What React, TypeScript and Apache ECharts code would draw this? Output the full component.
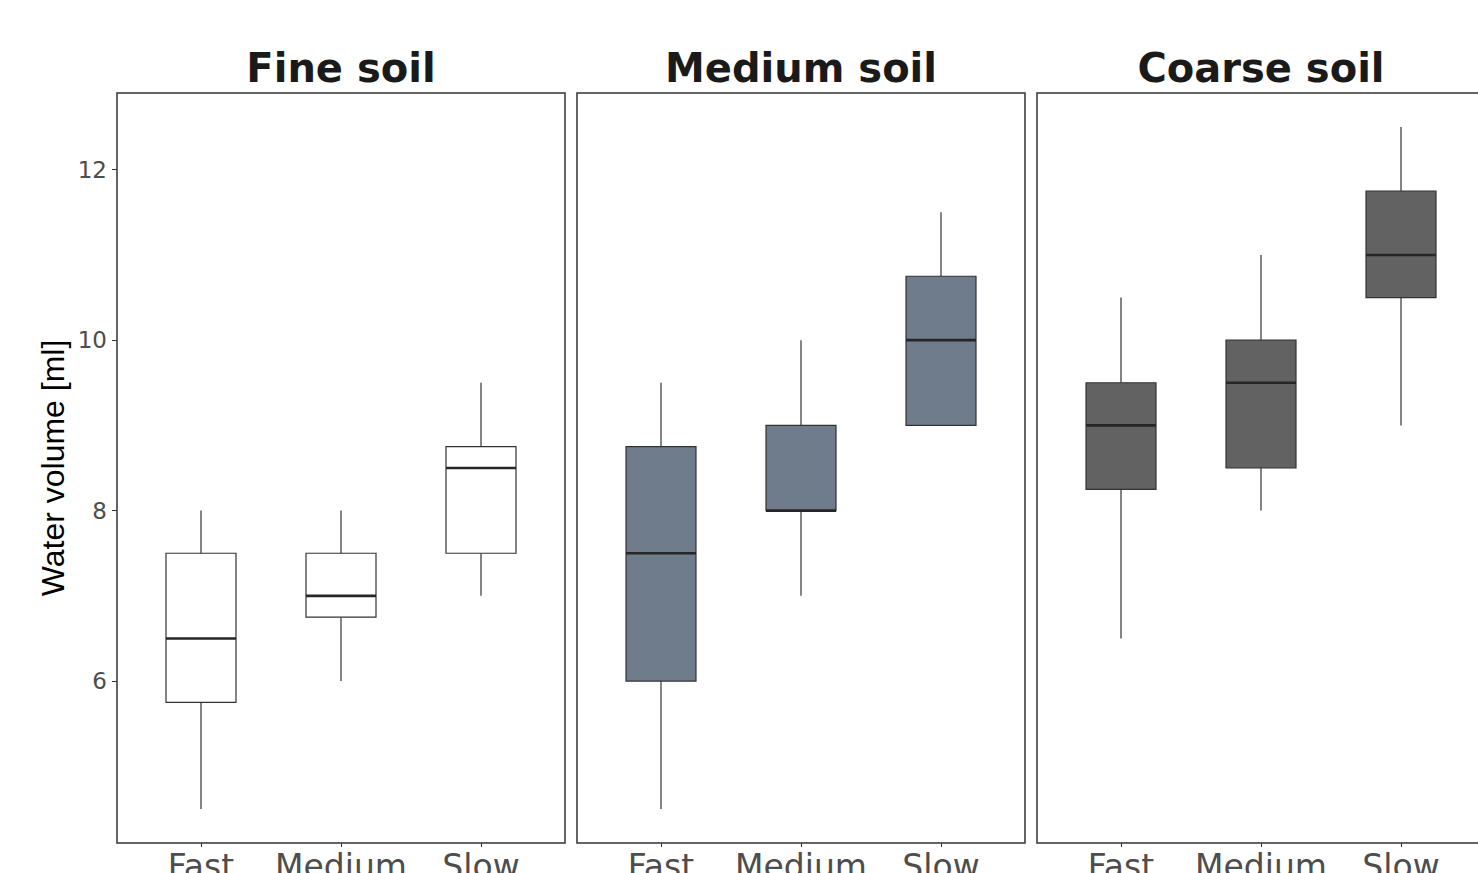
import React, { useEffect, useRef } from "react";
import * as echarts from "echarts";

const panels = ["Fine soil", "Medium soil", "Coarse soil"];
const categories = ["Fast", "Medium", "Slow"];
const yTicks = [6, 8, 10, 12];
// [min, Q1, median, Q3, max]
const fineSoil = [
  [4.5, 5.75, 6.5, 7.5, 8],
  [6, 6.75, 7, 7.5, 8],
  [7, 7.5, 8.5, 8.75, 9.5],
];
const mediumSoil = [
  [4.5, 6, 7.5, 8.75, 9.5],
  [7, 8, 8, 9, 10],
  [9, 9, 10, 10.75, 11.5],
];
const coarseSoil = [
  [6.5, 8.25, 9, 9.5, 10.5],
  [8, 8.5, 9.5, 10, 11],
  [9, 10.5, 11, 11.75, 12.5],
];
const panelData = [fineSoil, mediumSoil, coarseSoil];
const fills = ["#ffffff", "#6e7c8c", "#626262"];

const gridLefts = [117, 577, 1037];
const gridWidth = 448;
const gridTop = 93;
const gridHeight = 750;
const yMin = 4.1;
const yMax = 12.9;
const boxUnits = 0.5;

export default function App() {
  const ref = useRef<HTMLDivElement>(null);
  useEffect(() => {
    if (!ref.current) return;
    const chart = echarts.init(ref.current, undefined, { renderer: "svg" });
    const grids = gridLefts.map((l) => ({
      left: l,
      top: gridTop,
      width: gridWidth,
      height: gridHeight,
      show: true,
      borderColor: "#333333",
      borderWidth: 1.5,
      backgroundColor: "transparent",
      containLabel: false,
      outerBoundsMode: "none",
    }));
    const catPositions = categories.map((_, k) => k + 1);
    const xAxes = gridLefts.map((_, i) => ({
      type: "value",
      gridIndex: i,
      min: 0.4,
      max: 3.6,
      axisLine: { show: false },
      axisTick: { show: true, length: 4, customValues: catPositions, lineStyle: { color: "#333" } },
      axisLabel: {
        customValues: catPositions,
        formatter: (v: number) => categories[Math.round(v) - 1] ?? "",
        color: "#4d4d4d",
        fontSize: 33,
        fontFamily: "DejaVu Sans",
        margin: 7,
        hideOverlap: false,
      },
      splitLine: { show: false },
    }));
    const yAxes = gridLefts.map((_, i) => ({
      type: "value",
      gridIndex: i,
      min: yMin,
      max: yMax,
      name: i === 0 ? "Water volume [ml]" : "",
      nameLocation: "middle",
      nameRotate: 90,
      nameGap: 48,
      nameTextStyle: { fontSize: 32, color: "#000", fontFamily: "Liberation Sans" },
      axisLine: { show: false },
      axisTick: {
        show: i === 0,
        length: 5,
        customValues: yTicks,
        lineStyle: { color: "#333" },
      },
      axisLabel: {
        show: i === 0,
        customValues: yTicks,
        color: "#4d4d4d",
        fontSize: 23,
        fontFamily: "DejaVu Sans",
        margin: 10,
      },
      splitLine: { show: false },
    }));
    const series: any[] = panelData.map((d, i) => ({
      type: "custom",
      xAxisIndex: i,
      yAxisIndex: i,
      data: d.map((v, k) => [catPositions[k], ...v]),
      encode: { x: 0, y: [1, 2, 3, 4, 5] },
      renderItem: (params: any, api: any) => {
        const x = api.value(0);
        const pMin = api.coord([x, api.value(1)]);
        const pQ1 = api.coord([x, api.value(2)]);
        const pMed = api.coord([x, api.value(3)]);
        const pQ3 = api.coord([x, api.value(4)]);
        const pMax = api.coord([x, api.value(5)]);
        const w = api.size([boxUnits, 0])[0];
        const cx = pMed[0];
        return {
          type: "group",
          children: [
            {
              type: "line",
              shape: { x1: cx, y1: pMin[1], x2: cx, y2: pQ1[1] },
              style: { stroke: "#333333", lineWidth: 1.2 },
            },
            {
              type: "line",
              shape: { x1: cx, y1: pQ3[1], x2: cx, y2: pMax[1] },
              style: { stroke: "#333333", lineWidth: 1.2 },
            },
            {
              type: "rect",
              shape: { x: cx - w / 2, y: pQ3[1], width: w, height: pQ1[1] - pQ3[1] },
              style: { fill: fills[i], stroke: "#333333", lineWidth: 1.2 },
            },
            {
              type: "line",
              shape: { x1: cx - w / 2, y1: pMed[1], x2: cx + w / 2, y2: pMed[1] },
              style: { stroke: "#262626", lineWidth: 2.6 },
            },
          ],
        };
      },
    }));
    chart.setOption({
      animation: false,
      backgroundColor: "#ffffff",
      title: panels.map((t, i) => ({
        text: t,
        left: gridLefts[i] + gridWidth / 2,
        textAlign: "center",
        top: 48,
        padding: 0,
        textStyle: { fontSize: 40, fontWeight: "bold", color: "#1a1a1a", fontFamily: "DejaVu Sans" },
      })),
      grid: grids,
      xAxis: xAxes,
      yAxis: yAxes,
      series,
    });
    return () => chart.dispose();
  }, []);
  return (
    <div
      ref={ref}
      style={{ position: "fixed", left: 0, top: 0, width: 1478, height: 873, background: "#fff" }}
    />
  );
}
